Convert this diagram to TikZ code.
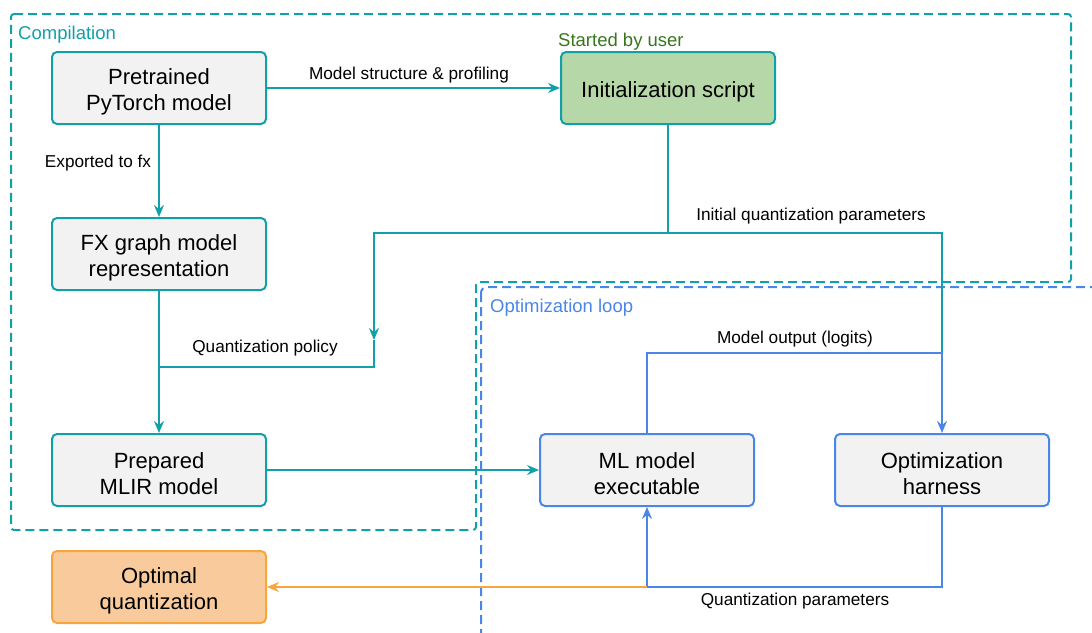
\documentclass[tikz,border=0pt]{standalone}
\usepackage{fontspec}
\setmainfont{Liberation Sans}
\usepackage{tikz}
\usetikzlibrary{arrows.meta,calc}
\definecolor{compteal}{HTML}{12A0A8}
\definecolor{loopblue}{HTML}{4A86E8}
\definecolor{boxgray}{HTML}{F2F2F2}
\definecolor{userfill}{HTML}{B6D7A8}
\definecolor{usertext}{HTML}{38761D}
\definecolor{optfill}{HTML}{F9CB9C}
\definecolor{optline}{HTML}{F9A53E}
\newcommand{\topstrut}{\rule{0pt}{23pt}}

\begin{document}
\begin{tikzpicture}[x=1pt,y=-1pt,
  box/.style={draw=compteal,fill=boxgray,rounded corners=5pt,line width=2pt,
    minimum width=214pt,minimum height=72pt,inner sep=2pt,align=center,
    font=\fontsize{22}{26}\selectfont},
  lbl/.style={font=\fontsize{17.2}{20}\selectfont,inner sep=1pt},
  grp/.style={font=\fontsize{18.5}{22}\selectfont,inner sep=0pt,anchor=west},
  tip/.style={-{Stealth[length=12pt,width=10pt,inset=4pt]}},
  tealline/.style={draw=compteal,line width=2pt},
  blueline/.style={draw=loopblue,line width=2pt},
  orangeline/.style={draw=optline,line width=2pt}]
  \useasboundingbox (0,0) rectangle (1092,632);
  \draw[compteal,line width=2pt,dash pattern=on 9pt off 5pt,rounded corners=3pt]
    (11,14) -- (1071,14) -- (1071,282) -- (476,282) -- (476,530) -- (11,530) -- cycle;
  \draw[loopblue,line width=2pt,dash pattern=on 9pt off 5pt,rounded corners=6pt]
    (481,287) rectangle (1110,660);
  \node[grp,text=compteal] (complbl) at (18,35) {Compilation};
  \node[grp,text=loopblue] (looplbl) at (490,308) {Optimization loop};
  \node[grp,text=usertext] (userlbl) at (558,42) {Started by user};

  \node[box] (pretrained) at (159,88) {\topstrut Pretrained\\PyTorch model};
  \node[box,fill=userfill] (init) at (668,88) {\topstrut Initialization script};
  \node[box] (fx) at (159,254) {\topstrut FX graph model\\representation};
  \node[box] (prep) at (159,470) {\topstrut Prepared\\MLIR model};
  \node[box,draw=loopblue] (mlexe) at (647,470) {\topstrut ML model\\executable};
  \node[box,draw=loopblue] (harness) at (942,470) {\topstrut Optimization\\harness};
  \node[box,draw=optline,fill=optfill] (optq) at (159,587) {\topstrut Optimal\\quantization};

  \coordinate (branch) at (668,233);
  \coordinate (policy) at (374,340);
  \coordinate (merge) at (159,367);
  \coordinate (logits) at (942,353);
  \coordinate (back) at (647,587);

  \draw[tealline,tip] (pretrained) -- (init);
  \draw[tealline,tip] (pretrained) -- (fx);
  \draw[tealline,tip] (fx) -- (prep);
  \draw[tealline,tip] (init.south) -- (branch) -| (policy);
  \draw[tealline] (policy) |- (merge);
  \draw[tealline] (branch) -| (logits);
  \draw[tealline,tip] (prep) -- (mlexe);
  \draw[blueline,tip] (mlexe.north) |- (logits) -- (harness.north);
  \draw[blueline,tip] (harness.south) |- (back) -- (mlexe.south);
  \draw[orangeline,tip] (back) -- (optq);

  \node[lbl] (structlbl) at (409,75) {Model structure \& profiling};
  \node[lbl] (fxlbl) at (98,163) {Exported to fx};
  \node[lbl] (initlbl) at (811,216) {Initial quantization parameters};
  \node[lbl] (policylbl) at (265,348) {Quantization policy};
  \node[lbl] (logitslbl) at (795,339) {Model output (logits)};
  \node[lbl] (qparamlbl) at (795,601) {Quantization parameters};
\end{tikzpicture}
\end{document}
